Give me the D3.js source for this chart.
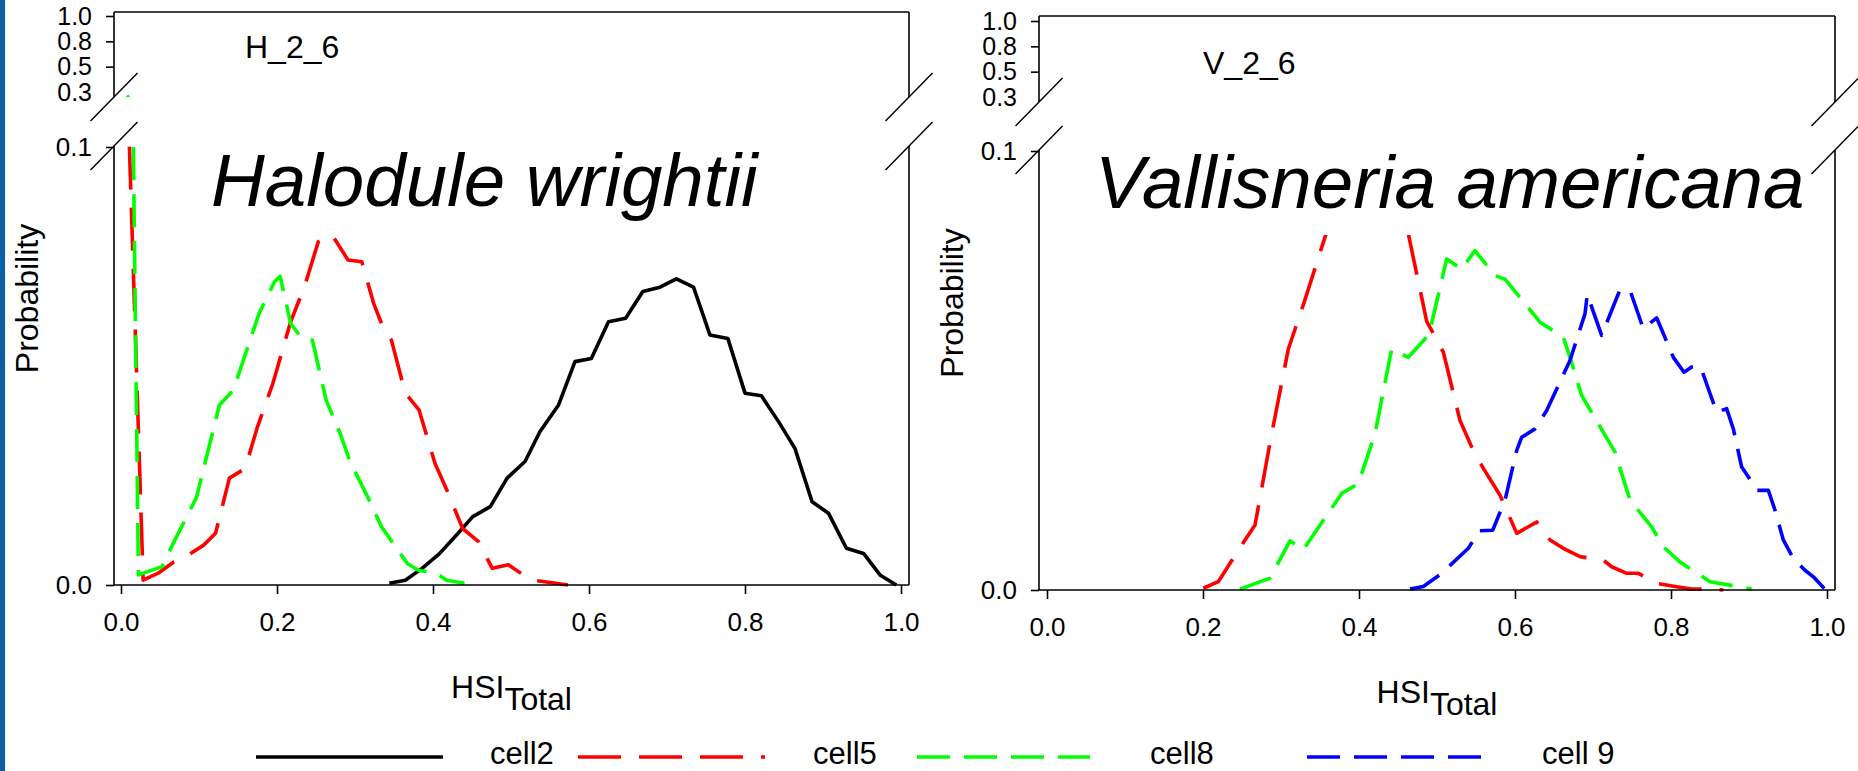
<!DOCTYPE html>
<html>
<head>
<meta charset="utf-8">
<script src="https://cdn.jsdelivr.net/npm/d3@7"></script>
<style>
  html, body { margin: 0; padding: 0; background: #ffffff; }
  svg { display: block; font-family: "Liberation Sans", Arial, sans-serif; }
</style>
</head>
<body>
<svg id="chart" width="1858" height="771"></svg>
<script>
// ---------------- DATA ----------------
const xTicks = [0, 0.2, 0.4, 0.6, 0.8, 1.0];
const upperTicks = [1.0, 0.75, 0.5, 0.25];   // shown with one decimal: 1.0 0.8 0.5 0.3
const lowerTicks = [0, 0.1];
const seriesNames = ["cell2", "cell5", "cell8", "cell 9"];
const panelTitles = ["Halodule wrightii", "Vallisneria americana"];
const panelTags = ["H_2_6", "V_2_6"];
const xLabelMain = "HSI";
const xLabelSub = "Total";
const yLabel = "Probability";

// Halodule wrightii (H_2_6)
const hCell2X = [0.344, 0.3645, 0.386, 0.408, 0.429, 0.451, 0.4735, 0.495, 0.518, 0.537, 0.561, 0.582, 0.603, 0.625, 0.647, 0.669, 0.691, 0.712, 0.734, 0.755, 0.778, 0.800, 0.821, 0.843, 0.864, 0.886, 0.907, 0.930, 0.952, 0.973, 0.994];
const hCell2Y = [0.0004, 0.0011, 0.0038, 0.0071, 0.0112, 0.0156, 0.0179, 0.0244, 0.0282, 0.035, 0.0411, 0.051, 0.0517, 0.0601, 0.0609, 0.067, 0.068, 0.0699, 0.068, 0.0571, 0.0563, 0.0438, 0.0432, 0.0373, 0.0312, 0.019, 0.0164, 0.0084, 0.0072, 0.0023, 0.0];

const hCell5X = [0.0083, 0.0284, 0.0477, 0.068, 0.0831, 0.106, 0.1212, 0.139, 0.1592, 0.1744, 0.1947, 0.2175, 0.2352, 0.253, 0.2707, 0.291, 0.3087, 0.3239, 0.334, 0.3467, 0.3645, 0.382, 0.4025, 0.4177, 0.438, 0.4583, 0.476, 0.4966, 0.5158, 0.528, 0.5526, 0.573];
const hCell5Y = [0.114, 0.0011, 0.0027, 0.0053, 0.0065, 0.0091, 0.0118, 0.0244, 0.0266, 0.0358, 0.046, 0.0601, 0.0681, 0.0784, 0.0799, 0.0742, 0.0738, 0.0643, 0.0597, 0.0559, 0.0438, 0.04, 0.0278, 0.0217, 0.0129, 0.0099, 0.0038, 0.0046, 0.0023, 0.0011, 0.0005, 0.0];

const hCell8X = [0.008, 0.0223, 0.0527, 0.068, 0.0968, 0.1262, 0.144, 0.177, 0.197, 0.204, 0.2175, 0.2327, 0.2454, 0.263, 0.281, 0.2935, 0.316, 0.334, 0.349, 0.367, 0.382, 0.4025, 0.4177, 0.4405];
const hCell8Y = [0.218, 0.0023, 0.0042, 0.0099, 0.0200, 0.0411, 0.0445, 0.062, 0.0693, 0.0705, 0.0597, 0.0561, 0.0559, 0.0422, 0.0346, 0.0282, 0.0202, 0.0133, 0.0095, 0.0049, 0.0033, 0.0028, 0.0011, 0.0004];

// Vallisneria americana (V_2_6)
const vCell5X = [0.2004, 0.2196, 0.244, 0.2667, 0.2872, 0.3094, 0.3304, 0.3521, 0.374, 0.396, 0.417, 0.439, 0.461, 0.4868, 0.5081, 0.5295, 0.5444, 0.5594, 0.5808, 0.6022, 0.6278, 0.6449, 0.6619, 0.6833, 0.7132, 0.724, 0.7432, 0.7581, 0.7816, 0.8051, 0.8265, 0.8457, 0.8671];
const vCell5Y = [0.0004, 0.0019, 0.0087, 0.0148, 0.0348, 0.0549, 0.0659, 0.078, 0.09, 0.097, 0.095, 0.09, 0.083, 0.0612, 0.0542, 0.0386, 0.0326, 0.0277, 0.0216, 0.0129, 0.0155, 0.0114, 0.0095, 0.0076, 0.0068, 0.0053, 0.0038, 0.0038, 0.0015, 0.0008, 0.0002, 0.0002, 0.0];

const vCell8X = [0.2474, 0.2859, 0.3115, 0.3286, 0.3778, 0.3991, 0.4205, 0.4419, 0.4632, 0.4868, 0.491, 0.5124, 0.5316, 0.5487, 0.5744, 0.5872, 0.6321, 0.6619, 0.6705, 0.6855, 0.7282, 0.7474, 0.7752, 0.7902, 0.8115, 0.8372, 0.85, 0.8821, 0.9034];
const vCell8Y = [0.0002, 0.0027, 0.0112, 0.0092, 0.022, 0.0242, 0.0356, 0.0549, 0.053, 0.0576, 0.0591, 0.0754, 0.0731, 0.0773, 0.0716, 0.0708, 0.061, 0.0576, 0.053, 0.0443, 0.0314, 0.0205, 0.0144, 0.0098, 0.0064, 0.0034, 0.0019, 0.0009, 0.0002];

const vCell9X = [0.4654, 0.4825, 0.506, 0.5402, 0.5543, 0.5714, 0.5872, 0.6022, 0.6086, 0.6256, 0.6406, 0.6705, 0.6897, 0.6927, 0.7111, 0.7337, 0.7474, 0.7645, 0.7816, 0.803, 0.8167, 0.8265, 0.838, 0.8585, 0.8714, 0.8799, 0.8906, 0.8991, 0.9098, 0.9248, 0.9333, 0.944, 0.9568, 0.9718, 0.9825, 0.9974];
const vCell9Y = [0.0002, 0.0008, 0.0038, 0.0095, 0.0135, 0.0136, 0.0205, 0.0318, 0.0348, 0.0367, 0.0409, 0.0523, 0.0629, 0.0673, 0.058, 0.068, 0.0683, 0.0595, 0.062, 0.053, 0.0496, 0.0508, 0.0508, 0.0405, 0.0413, 0.0367, 0.028, 0.0258, 0.0227, 0.0227, 0.0182, 0.0114, 0.0072, 0.0045, 0.003, 0.0002];

// ---------------- STYLES ----------------
const seriesStyle = {
  "cell2":  { color: "#000000", dash: null },
  "cell5":  { color: "#ff0000", dash: "43,18" },
  "cell8":  { color: "#00ff00", dash: "33,14" },
  "cell 9": { color: "#0000ff", dash: "33,14" }
};
const zip = (xs, ys) => xs.map((x, i) => ({ x: x, y: ys[i] }));

const panels = [
  { title: panelTitles[0], tag: panelTags[0],
    series: [ { name: "cell2", pts: zip(hCell2X, hCell2Y) },
              { name: "cell5", pts: zip(hCell5X, hCell5Y) },
              { name: "cell8", pts: zip(hCell8X, hCell8Y) } ],
    x0: 121, x1: 901, axL: 114, axR: 909, top: 12, u1: 16, u025: 92, brkU: 97, brkL: 146, l01: 147, l0: 585,
    titleX: 211, titleY: 206, tagX: 245, tagY: 58, whiteBox: false },
  { title: panelTitles[1], tag: panelTags[1],
    series: [ { name: "cell5", pts: zip(vCell5X, vCell5Y) },
              { name: "cell8", pts: zip(vCell8X, vCell8Y) },
              { name: "cell 9", pts: zip(vCell9X, vCell9Y) } ],
    x0: 1047, x1: 1827, axL: 1039, axR: 1835, top: 16, u1: 21, u025: 97, brkU: 102, brkL: 150, l01: 151, l0: 590,
    titleX: 1095, titleY: 208, tagX: 1203, tagY: 74, whiteBox: true }
];

const svg = d3.select("#chart");
svg.append("rect").attr("x", 0).attr("y", 0).attr("width", 1858).attr("height", 771).attr("fill", "#ffffff");
svg.append("rect").attr("x", 0).attr("y", 0).attr("width", 5).attr("height", 771).attr("fill", "#0a5fa5");

const fmt = d3.format(".1f");

panels.forEach((p, pi) => {
  const g = svg.append("g");
  const x = d3.scaleLinear().domain([0, 1]).range([p.x0, p.x1]);
  const yLo = d3.scaleLinear().domain([0, 0.1]).range([p.l0, p.l01]);
  const yUp = d3.scaleLinear().domain([0.25, 1.0]).range([p.u025, p.u1]);

  // clip paths
  const defs = svg.append("defs");
  defs.append("clipPath").attr("id", "clipU" + pi).append("rect")
    .attr("x", p.axL).attr("y", p.top).attr("width", p.axR - p.axL).attr("height", p.brkU - p.top);
  defs.append("clipPath").attr("id", "clipL" + pi).append("rect")
    .attr("x", p.axL).attr("y", p.brkL).attr("width", p.axR - p.axL).attr("height", p.l0 + 2 - p.brkL);

  // data lines
  ["U", "L"].forEach(part => {
    const ys = part === "U" ? yUp : yLo;
    const line = d3.line().x(d => x(d.x)).y(d => ys(d.y));
    const lg = g.append("g").attr("clip-path", "url(#clip" + part + pi + ")");
    p.series.forEach(s => {
      const st = seriesStyle[s.name];
      lg.append("path").datum(s.pts)
        .attr("d", line)
        .attr("fill", "none")
        .attr("stroke", st.color)
        .attr("stroke-width", 3.6)
        .attr("stroke-linejoin", "round")
        .attr("stroke-dasharray", st.dash);
    });
  });

  // white text frame behind species name
  if (p.whiteBox) {
    g.append("rect").attr("x", p.titleX - 8).attr("y", p.brkL - 6)
      .attr("width", 712).attr("height", 235 - (p.brkL - 6)).attr("fill", "#ffffff");
  }

  // frame lines
  const fr = g.append("g").attr("stroke", "#000").attr("stroke-width", 1.6).attr("fill", "none");
  fr.append("line").attr("x1", p.axL).attr("x2", p.axR).attr("y1", p.top).attr("y2", p.top);
  fr.append("line").attr("x1", p.axL).attr("x2", p.axL).attr("y1", p.top).attr("y2", p.brkU);
  fr.append("line").attr("x1", p.axR).attr("x2", p.axR).attr("y1", p.top).attr("y2", p.brkU);
  fr.append("line").attr("x1", p.axL).attr("x2", p.axL).attr("y1", p.brkL).attr("y2", p.l0);
  fr.append("line").attr("x1", p.axR).attr("x2", p.axR).attr("y1", p.brkL).attr("y2", p.l0);
  fr.append("line").attr("x1", p.axL).attr("x2", p.axR).attr("y1", p.l0).attr("y2", p.l0);

  // break marks
  [[p.axL, p.brkU], [p.axL, p.brkL], [p.axR, p.brkU], [p.axR, p.brkL]].forEach(([cx, cy]) => {
    g.append("line").attr("x1", cx - 23.5).attr("y1", cy + 24).attr("x2", cx + 23.5).attr("y2", cy - 24)
      .attr("stroke", "#000").attr("stroke-width", 1.4);
  });

  // axes
  const styleAxis = (sel, size) => {
    sel.select(".domain").remove();
    sel.selectAll(".tick line").attr("stroke", "#000").attr("stroke-width", 1.6);
    sel.selectAll(".tick text").attr("fill", "#000")
      .style("font-family", '"Liberation Sans", Arial, sans-serif').style("font-size", size + "px");
  };
  const xa = g.append("g").attr("transform", `translate(0,${p.l0})`)
    .call(d3.axisBottom(x).tickValues(xTicks).tickFormat(fmt).tickSize(9).tickPadding(19).tickSizeOuter(0));
  styleAxis(xa, 26);

  const yla = g.append("g").attr("transform", `translate(${p.axL},0)`)
    .call(d3.axisLeft(yLo).tickValues(lowerTicks).tickFormat(fmt).tickSize(8).tickPadding(14).tickSizeOuter(0));
  styleAxis(yla, 26);

  const yua = g.append("g").attr("transform", `translate(${p.axL},0)`)
    .call(d3.axisLeft(yUp).tickValues(upperTicks).tickFormat(fmt).tickSize(8).tickPadding(14).tickSizeOuter(0));
  styleAxis(yua, 25);
  yua.selectAll(".tick").filter(d => yUp(d) > p.brkU - 7).select("line").remove();

  // texts
  g.append("text").attr("x", p.titleX).attr("y", p.titleY)
    .attr("font-size", 74.5).attr("font-style", "italic").attr("fill", "#000").text(p.title);
  g.append("text").attr("x", p.tagX).attr("y", p.tagY)
    .attr("font-size", 32).attr("fill", "#000").text(p.tag);

  const cx = (p.axL + p.axR) / 2;
  const xl = g.append("text").attr("x", cx).attr("y", p.l0 + 113)
    .attr("text-anchor", "middle").attr("font-size", 32).attr("fill", "#000");
  xl.append("tspan").text(xLabelMain);
  xl.append("tspan").attr("dy", 12).text(xLabelSub);

  const cy = (p.top + p.l0) / 2;
  g.append("text").attr("transform", `translate(${p.axL - 76},${cy}) rotate(-90)`)
    .attr("text-anchor", "middle").attr("font-size", 32).attr("fill", "#000").text(yLabel);
});

// legend
const legendItems = [
  { name: seriesNames[0], lx1: 256, lx2: 443, tx: 490 },
  { name: seriesNames[1], lx1: 578, lx2: 765, tx: 813 },
  { name: seriesNames[2], lx1: 917, lx2: 1090, tx: 1150 },
  { name: seriesNames[3], lx1: 1307, lx2: 1482, tx: 1542 }
];
const lg = svg.append("g");
legendItems.forEach(it => {
  const st = seriesStyle[it.name];
  lg.append("line").attr("x1", it.lx1).attr("x2", it.lx2).attr("y1", 757).attr("y2", 757)
    .attr("stroke", st.color).attr("stroke-width", 3.4).attr("stroke-dasharray", st.dash);
  lg.append("text").attr("x", it.tx).attr("y", 764).attr("font-size", 31).attr("fill", "#000").text(it.name);
});
</script>
</body>
</html>
